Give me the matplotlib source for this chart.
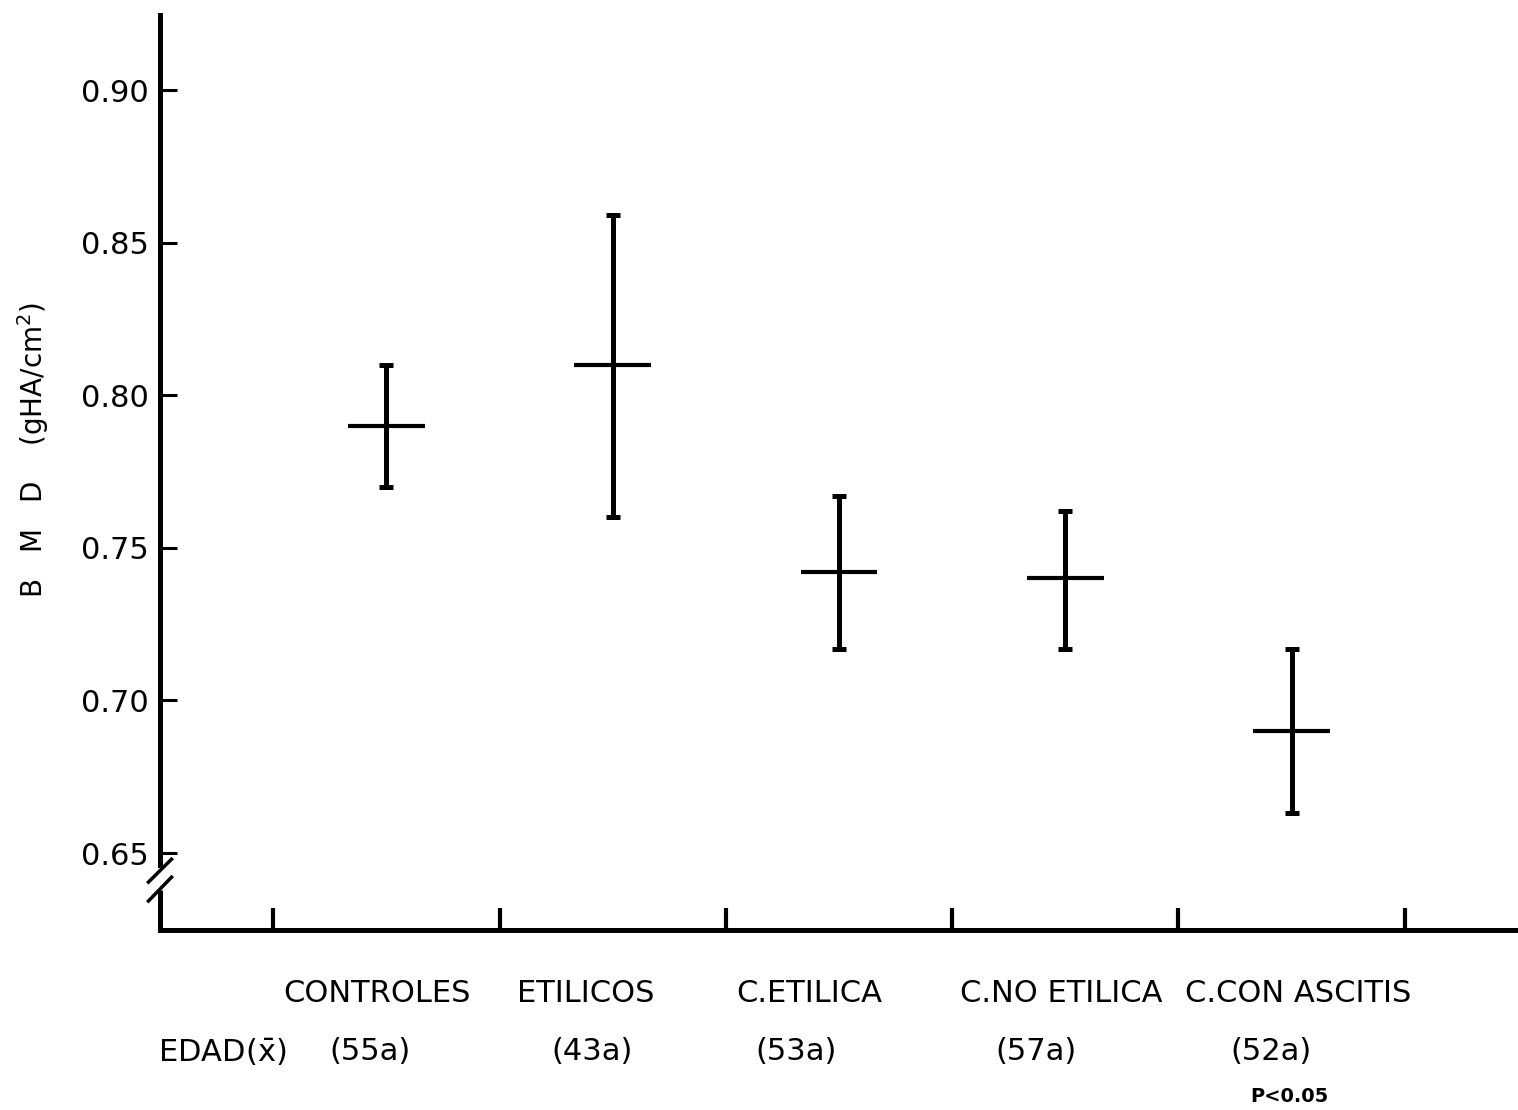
import numpy as np
import matplotlib
matplotlib.use('Agg')
import matplotlib.pyplot as plt
import matplotlib.transforms as mtransforms

# Data
groups = ['CONTROLES', 'ETILICOS', 'C.ETILICA', 'C.NO ETILICA', 'C.CON ASCITIS']
ages = ['(55a)', '(43a)', '(53a)', '(57a)', '(52a)']
group_x = [1.5, 2.5, 3.5, 4.5, 5.5]
bmd_mean = [0.790, 0.810, 0.742, 0.740, 0.690]
bmd_upper = [0.810, 0.859, 0.767, 0.762, 0.717]
bmd_lower = [0.770, 0.760, 0.717, 0.717, 0.663]
yticks = [0.65, 0.70, 0.75, 0.80, 0.85, 0.90]

# label positions (layout only)
group_label_x = [1.46, 2.38, 3.37, 4.48, 5.53]
age_label_x = [1.43, 2.41, 3.31, 4.37, 5.41]

plt.rcParams['font.family'] = ['DejaVu Sans']

fig = plt.figure(figsize=(15.18, 11.10), dpi=100)
ax = fig.add_axes([160/1518, 1 - 930/1110, 1 - 160/1518, (930 - 15)/1110])

x = np.array(group_x)
mean = np.array(bmd_mean)
yerr = np.vstack([mean - np.array(bmd_lower), np.array(bmd_upper) - mean])

ax.errorbar(x, mean, yerr=yerr, fmt='none', ecolor='black',
            elinewidth=3.6, capsize=5, capthick=3.6)
ax.hlines(mean, x - 0.17, x + 0.17, colors='black', linewidth=3.0)

ax.set_xlim(0.5, 6.5)
ax.set_ylim(0.6248, 0.9246)

ax.set_xticks([1, 2, 3, 4, 5, 6])
ax.set_xticklabels([])
ax.set_yticks(yticks)
ax.set_yticklabels(['%.2f' % v for v in yticks])
ax.tick_params(axis='y', direction='in', length=12, width=2.2, pad=8,
               labelsize=22)
ax.tick_params(axis='x', direction='in', length=16, width=3, pad=0)

for s in ['top', 'right']:
    ax.spines[s].set_visible(False)
ax.spines['bottom'].set_linewidth(3.6)
ax.spines['left'].set_linewidth(3.6)
ax.spines['left'].set_bounds(0.6461, 0.9246)

# lower piece of the broken y axis and the break marks
ax.plot([0.5, 0.5], [0.6248, 0.6379], color='black', linewidth=3.6,
        clip_on=False, solid_capstyle='butt')
ax.plot([0.449, 0.551], [0.6405, 0.6480], color='black', linewidth=2.5,
        clip_on=False)
ax.plot([0.449, 0.551], [0.6343, 0.6421], color='black', linewidth=2.5,
        clip_on=False)

ax.set_ylabel('B   M   D    (gHA/cm$^2$)', fontsize=20)
ax.yaxis.set_label_coords(-0.080, 0.5246)

trans = mtransforms.blended_transform_factory(ax.transData, fig.transFigure)
for gx, g in zip(group_label_x, groups):
    ax.text(gx, 1 - 993/1110, g, transform=trans, ha='center', va='center',
            fontsize=22)
for axx, a in zip(age_label_x, ages):
    ax.text(axx, 1 - 1052/1110, a, transform=trans, ha='center', va='center',
            fontsize=22)
ax.text(0.774, 1 - 1052/1110, r'EDAD($\bar{\mathrm{x}}$)', transform=trans,
        ha='center', va='center', fontsize=22)
ax.text(5.49, 1 - 1097/1110, 'P<0.05', transform=trans, ha='center',
        va='center', fontsize=14, fontweight='bold')

fig.savefig('out.png', dpi=100)
